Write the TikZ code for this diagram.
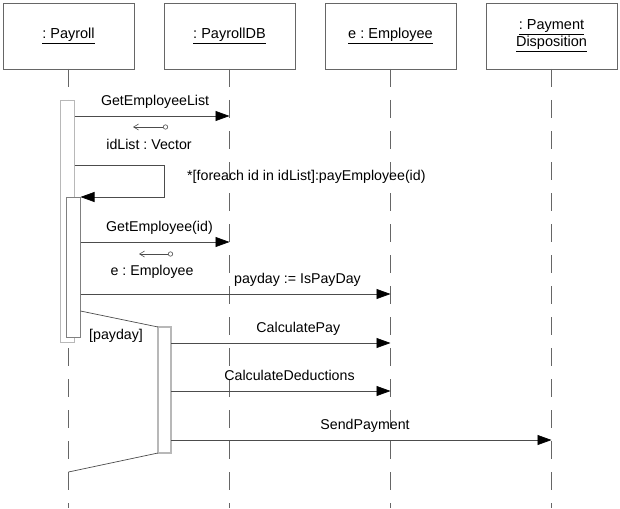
\documentclass[tikz,border=0pt]{standalone}
\usepackage{fontspec}
\setmainfont{Liberation Sans}
\usetikzlibrary{positioning,arrows.meta}
\frenchspacing

\begin{document}
\begin{tikzpicture}[x=1pt, y=-1pt,
  object/.style={draw=black!60, fill=white, minimum width=131pt, minimum height=66pt,
    inner sep=0pt, outer sep=0pt, align=center, font=\fontsize{14.5}{17}\selectfont},
  lifeline/.style={draw=black!60, line width=0.6pt, dash pattern=on 18pt off 13pt},
  activation/.style={draw=black!28, line width=1.6pt, fill=white, inner sep=0pt, outer sep=0pt},
  msg/.style={draw=black!70, line width=0.7pt, -{Triangle[length=14pt,width=10pt,black]}},
  ret/.style={draw=black!70, line width=0.6pt, {Straight Barb[length=5pt,width=6pt]}-{Circle[open,length=5pt]}},
  guard/.style={draw=black!70, line width=0.7pt},
  lbl/.style={font=\fontsize{14.2}{17}\selectfont, inner sep=1pt, text height=10pt, text depth=3pt}
  ]
  \useasboundingbox (0,0) rectangle (620,508);

  \node[object] (payroll) at (68.5,36) {\underline{: Payroll}};
  \node[object, right=30pt of payroll] (db) {\underline{: PayrollDB}};
  \node[object, right=30pt of db] (emp) {\underline{e : Employee}};
  \node[object, right=30pt of emp] (pay) {\underline{: Payment}\\\underline{Disposition}};

  \foreach \obj in {payroll,db,emp,pay}
    \draw[lifeline] (\obj.south) -- (\obj |- 0,508);

  \node[activation, minimum width=14pt, minimum height=242pt, anchor=north] (act1) at (67.5,100.5) {};
  \node[activation, draw=black!50, line width=0.9pt, minimum width=14pt, minimum height=140pt, anchor=north] (act2) at (73.5,197) {};
  \node[activation, minimum width=13pt, minimum height=126pt, anchor=north] (act3) at (164.5,327) {};

  \draw[msg] (act1.east |- 0,116) -- node[lbl, above=6pt, pos=.52] {GetEmployeeList} (db |- 0,116);
  \coordinate (r1a) at (133,127);
  \coordinate (r1b) at (168,127);
  \draw[ret] (r1a) -- (r1b);
  \node[lbl, anchor=base] (idlist) at (149,149) {idList : Vector};

  \draw[msg] (act1.east |- 0,165) -- ++(90,0) |- (act2.east |- 0,197);
  \node[lbl, anchor=base west] (loop) at (186,180) {*[foreach id in idList]:payEmployee(id)};

  \draw[msg] (act2.east |- 0,242) -- node[lbl, above=6pt, pos=.53] {GetEmployee(id)} (db |- 0,242);
  \coordinate (r2a) at (139,254);
  \coordinate (r2b) at (173,254);
  \draw[ret] (r2a) -- (r2b);
  \node[lbl, anchor=base] (eemp) at (152,275) {e : Employee};

  \draw[msg] (act2.east |- 0,294) -- node[lbl, above=6pt, pos=.70] {payday := IsPayDay} (emp |- 0,294);

  \draw[guard] (act2.east |- 0,311) -- (act3.north west);
  \draw[guard] (act3.south west) -- (payroll |- 0,472);
  \node[lbl, anchor=base west] (cond) at (88,339) {[payday]};

  \draw[msg] (act3.east |- 0,343) -- node[lbl, above=6pt, pos=.58] {CalculatePay} (emp |- 0,343);
  \draw[msg] (act3.east |- 0,391) -- node[lbl, above=6pt, pos=.54] {CalculateDeductions} (emp |- 0,391);
  \draw[msg] (act3.east |- 0,440) -- node[lbl, above=6pt, pos=.51] {SendPayment} (pay |- 0,440);
\end{tikzpicture}
\end{document}
